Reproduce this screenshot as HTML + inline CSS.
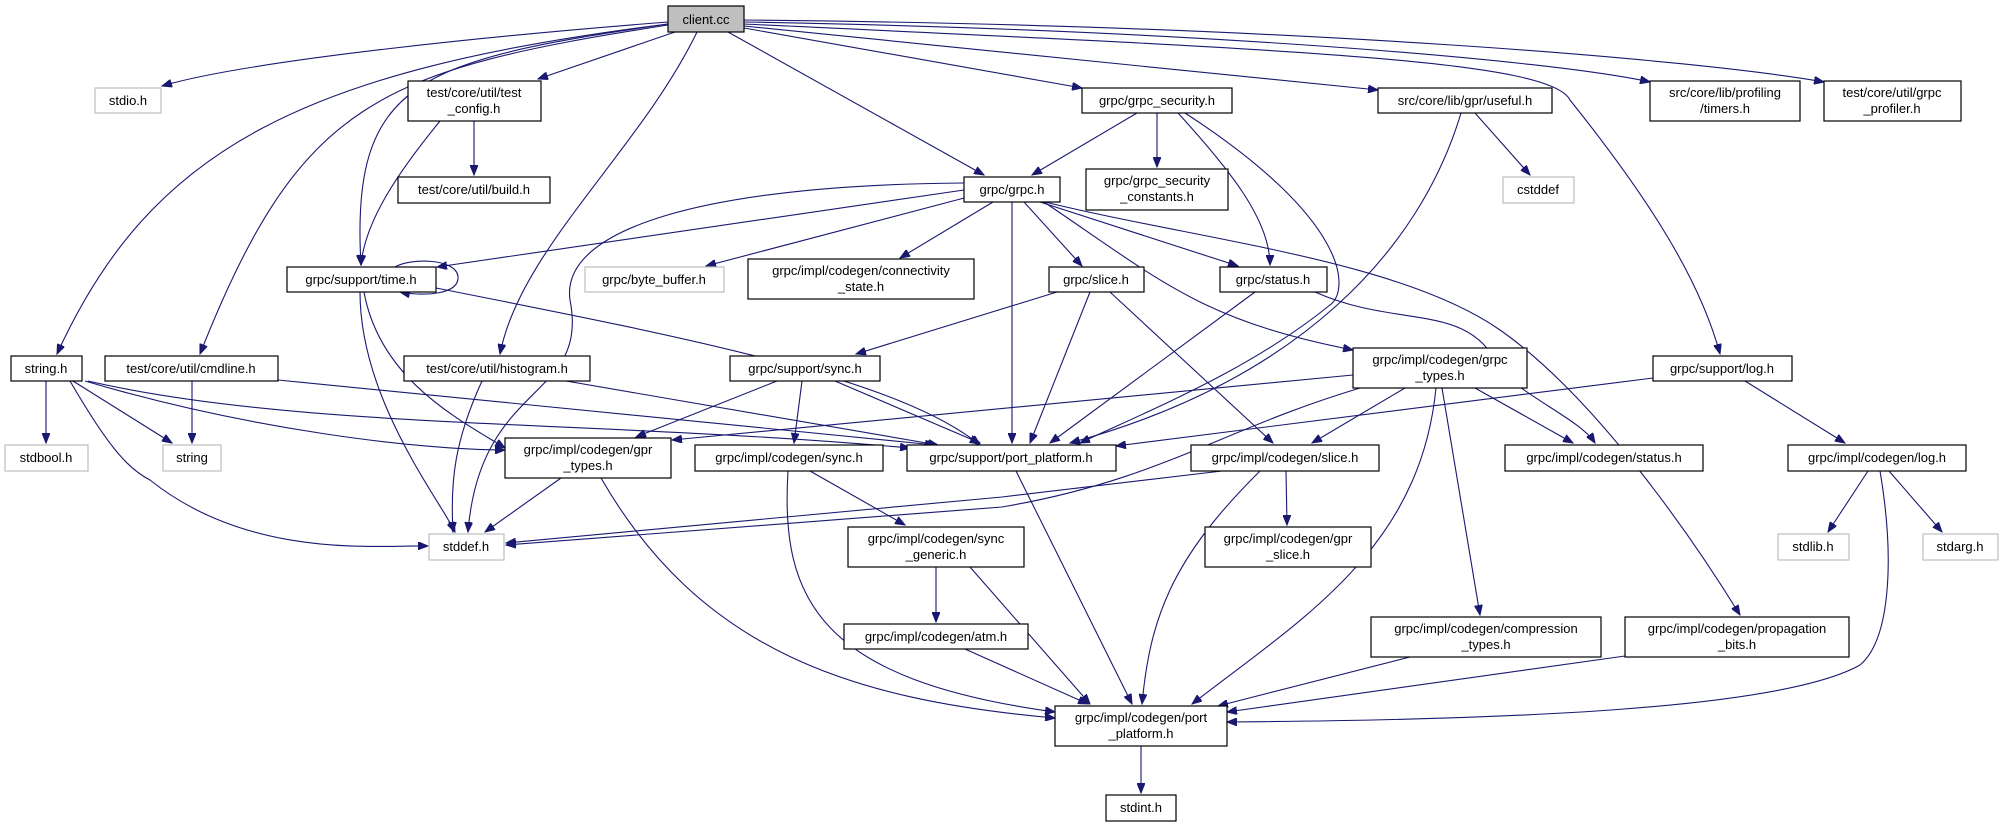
<!DOCTYPE html>
<html><head><meta charset="utf-8"><style>
html,body{margin:0;padding:0;background:#fff;}
svg{display:block;}
text{font-family:"Liberation Sans",sans-serif;font-size:13px;fill:#000;text-anchor:middle;}
.n{fill:#fff;stroke:#000;stroke-width:1.2;}
.g{fill:#fff;stroke:#bfbfbf;stroke-width:1.2;}
.e{fill:none;stroke:#191970;stroke-width:1.1;}
</style></head><body>
<svg width="2004" height="827" viewBox="0 0 2004 827" xmlns="http://www.w3.org/2000/svg">
<defs><marker id="a" markerWidth="11" markerHeight="8" refX="10" refY="4" orient="auto" markerUnits="userSpaceOnUse"><path d="M0,0 L10,4 L0,8 z" fill="#191970" stroke="#191970"/></marker></defs>
<g marker-end="url(#a)">
<path class="e" d="M668,22 C500,35 250,60 162,86"/>
<path class="e" d="M668,24 C300,70 150,150 57,354"/>
<path class="e" d="M668,25 C380,70 300,100 200,354"/>
<path class="e" d="M668,24 C420,60 350,80 361,265"/>
<path class="e" d="M675,32 L538,79"/>
<path class="e" d="M697,32 C640,150 520,250 500,354"/>
<path class="e" d="M728,32 L984,175"/>
<path class="e" d="M744,28 L1082,88"/>
<path class="e" d="M744,26 L1378,90"/>
<path class="e" d="M744,24 C1300,50 1550,60 1570,100 C1650,200 1700,280 1720,354"/>
<path class="e" d="M744,22 C1200,30 1550,60 1650,82"/>
<path class="e" d="M744,20 C1300,25 1700,60 1824,82"/>
<path class="e" d="M474,121 L474,175"/>
<path class="e" d="M440,121 C400,170 365,220 361,265"/>
<path class="e" d="M395,267 C410,258 455,258 458,276 C460,296 420,296 400,292"/>
<path class="e" d="M360,292 C360,400 440,500 455,532"/>
<path class="e" d="M364,292 C380,380 460,420 505,448"/>
<path class="e" d="M436,288 C700,340 900,380 980,445"/>
<path class="e" d="M964,190 L437,267"/>
<path class="e" d="M964,183 C700,185 560,230 570,300 C590,400 480,380 468,532"/>
<path class="e" d="M968,197 L706,266"/>
<path class="e" d="M993,202 L900,258"/>
<path class="e" d="M1024,202 L1082,266"/>
<path class="e" d="M1040,202 L1238,266"/>
<path class="e" d="M1044,202 C1160,280 1200,320 1353,350"/>
<path class="e" d="M1012,202 L1012,443"/>
<path class="e" d="M1045,202 C1200,240 1400,260 1500,330 C1600,400 1700,550 1740,615"/>
<path class="e" d="M1137,113 L1032,175"/>
<path class="e" d="M1157,113 L1157,167"/>
<path class="e" d="M1178,113 C1230,170 1270,220 1270,265"/>
<path class="e" d="M1185,113 C1350,220 1350,290 1330,305 C1250,370 1150,410 1080,443"/>
<path class="e" d="M1475,113 L1530,175"/>
<path class="e" d="M1461,113 C1420,250 1300,380 1070,443"/>
<path class="e" d="M1057,292 L856,354"/>
<path class="e" d="M1090,292 L1030,443"/>
<path class="e" d="M1110,292 L1273,443"/>
<path class="e" d="M1255,292 L1050,443"/>
<path class="e" d="M1315,292 C1400,330 1470,300 1500,370 C1530,400 1580,420 1595,443"/>
<path class="e" d="M1353,375 L672,440"/>
<path class="e" d="M1360,388 C1220,430 1160,480 1002,507 L506,545"/>
<path class="e" d="M1222,471 L1002,497 L506,543"/>
<path class="e" d="M1405,388 L1312,443"/>
<path class="e" d="M1475,388 L1573,443"/>
<path class="e" d="M1442,388 L1480,615"/>
<path class="e" d="M1436,388 C1420,550 1300,620 1192,704"/>
<path class="e" d="M1653,378 L1116,446"/>
<path class="e" d="M1745,381 L1845,443"/>
<path class="e" d="M777,381 L636,437"/>
<path class="e" d="M802,381 L794,443"/>
<path class="e" d="M835,381 L980,443"/>
<path class="e" d="M46,381 L46,443"/>
<path class="e" d="M73,381 L172,443"/>
<path class="e" d="M70,381 C110,450 130,470 150,480 C250,560 380,545 428,546"/>
<path class="e" d="M85,381 C250,430 420,450 505,450"/>
<path class="e" d="M88,381 C300,430 600,420 910,448"/>
<path class="e" d="M192,381 L192,443"/>
<path class="e" d="M278,380 L935,445"/>
<path class="e" d="M482,381 C455,440 450,480 453,532"/>
<path class="e" d="M566,381 L938,445"/>
<path class="e" d="M561,478 L485,532"/>
<path class="e" d="M601,478 C700,650 850,700 1055,718"/>
<path class="e" d="M788,471 C780,600 820,680 1055,712"/>
<path class="e" d="M810,471 L905,525"/>
<path class="e" d="M936,567 L936,622"/>
<path class="e" d="M970,567 L1090,704"/>
<path class="e" d="M965,649 L1088,704"/>
<path class="e" d="M1016,471 L1132,704"/>
<path class="e" d="M1286,471 L1287,525"/>
<path class="e" d="M1260,471 C1170,560 1150,620 1142,704"/>
<path class="e" d="M1410,657 L1218,706"/>
<path class="e" d="M1625,656 L1227,712"/>
<path class="e" d="M1868,471 L1828,532"/>
<path class="e" d="M1889,471 L1942,532"/>
<path class="e" d="M1880,471 C1895,560 1890,640 1860,665 C1780,710 1500,720 1227,722"/>
<path class="e" d="M1141,746 L1141,793"/>
</g>
<!-- nodes -->
<rect x="668" y="6" width="76" height="26" fill="#bfbfbf" stroke="#000" stroke-width="1.2"/><text x="706" y="24">client.cc</text>
<rect class="g" x="95" y="88" width="66" height="25"/><text x="128" y="105">stdio.h</text>
<rect class="n" x="408" y="81" width="133" height="40"/><text x="474" y="97">test/core/util/test</text><text x="474" y="113">_config.h</text>
<rect class="n" x="398" y="177" width="152" height="26"/><text x="474" y="194">test/core/util/build.h</text>
<rect class="n" x="287" y="267" width="149" height="25"/><text x="361" y="284">grpc/support/time.h</text>
<rect class="g" x="585" y="267" width="139" height="25"/><text x="654" y="284">grpc/byte_buffer.h</text>
<rect class="n" x="748" y="259" width="226" height="40"/><text x="861" y="275">grpc/impl/codegen/connectivity</text><text x="861" y="291">_state.h</text>
<rect class="n" x="11" y="356" width="71" height="25"/><text x="46" y="373">string.h</text>
<rect class="n" x="105" y="356" width="173" height="25"/><text x="191" y="373">test/core/util/cmdline.h</text>
<rect class="n" x="404" y="356" width="186" height="25"/><text x="497" y="373">test/core/util/histogram.h</text>
<rect class="n" x="730" y="356" width="150" height="25"/><text x="805" y="373">grpc/support/sync.h</text>
<rect class="n" x="964" y="177" width="96" height="25"/><text x="1012" y="194">grpc/grpc.h</text>
<rect class="n" x="1082" y="88" width="150" height="25"/><text x="1157" y="105">grpc/grpc_security.h</text>
<rect class="n" x="1378" y="88" width="174" height="25"/><text x="1465" y="105">src/core/lib/gpr/useful.h</text>
<rect class="n" x="1650" y="81" width="150" height="40"/><text x="1725" y="97">src/core/lib/profiling</text><text x="1725" y="113">/timers.h</text>
<rect class="n" x="1824" y="81" width="137" height="40"/><text x="1892" y="97">test/core/util/grpc</text><text x="1892" y="113">_profiler.h</text>
<rect class="n" x="1086" y="169" width="142" height="41"/><text x="1157" y="185">grpc/grpc_security</text><text x="1157" y="201">_constants.h</text>
<rect class="g" x="1503" y="177" width="71" height="26"/><text x="1538" y="194">cstddef</text>
<rect class="n" x="1049" y="267" width="95" height="25"/><text x="1096" y="284">grpc/slice.h</text>
<rect class="n" x="1220" y="267" width="107" height="25"/><text x="1273" y="284">grpc/status.h</text>
<rect class="n" x="1353" y="348" width="174" height="40"/><text x="1440" y="364">grpc/impl/codegen/grpc</text><text x="1440" y="380">_types.h</text>
<rect class="n" x="1653" y="356" width="139" height="25"/><text x="1722" y="373">grpc/support/log.h</text>
<rect class="g" x="5" y="445" width="83" height="26"/><text x="46" y="462">stdbool.h</text>
<rect class="g" x="163" y="445" width="58" height="26"/><text x="192" y="462">string</text>
<rect class="n" x="505" y="438" width="166" height="40"/><text x="588" y="454">grpc/impl/codegen/gpr</text><text x="588" y="470">_types.h</text>
<rect class="n" x="695" y="445" width="188" height="26"/><text x="789" y="462">grpc/impl/codegen/sync.h</text>
<rect class="n" x="907" y="445" width="209" height="26"/><text x="1011" y="462">grpc/support/port_platform.h</text>
<rect class="g" x="429" y="534" width="75" height="26"/><text x="466" y="551">stddef.h</text>
<rect class="n" x="848" y="527" width="176" height="40"/><text x="936" y="543">grpc/impl/codegen/sync</text><text x="936" y="559">_generic.h</text>
<rect class="n" x="844" y="624" width="184" height="25"/><text x="936" y="641">grpc/impl/codegen/atm.h</text>
<rect class="n" x="1191" y="445" width="188" height="26"/><text x="1285" y="462">grpc/impl/codegen/slice.h</text>
<rect class="n" x="1505" y="445" width="198" height="26"/><text x="1604" y="462">grpc/impl/codegen/status.h</text>
<rect class="n" x="1788" y="445" width="178" height="26"/><text x="1877" y="462">grpc/impl/codegen/log.h</text>
<rect class="n" x="1205" y="527" width="166" height="40"/><text x="1288" y="543">grpc/impl/codegen/gpr</text><text x="1288" y="559">_slice.h</text>
<rect class="g" x="1778" y="534" width="71" height="26"/><text x="1813" y="551">stdlib.h</text>
<rect class="g" x="1923" y="534" width="75" height="26"/><text x="1960" y="551">stdarg.h</text>
<rect class="n" x="1371" y="617" width="230" height="40"/><text x="1486" y="633">grpc/impl/codegen/compression</text><text x="1486" y="649">_types.h</text>
<rect class="n" x="1625" y="617" width="224" height="40"/><text x="1737" y="633">grpc/impl/codegen/propagation</text><text x="1737" y="649">_bits.h</text>
<rect class="n" x="1055" y="706" width="172" height="40"/><text x="1141" y="722">grpc/impl/codegen/port</text><text x="1141" y="738">_platform.h</text>
<rect class="n" x="1106" y="795" width="70" height="26"/><text x="1141" y="812">stdint.h</text>
</svg>
</body></html>
